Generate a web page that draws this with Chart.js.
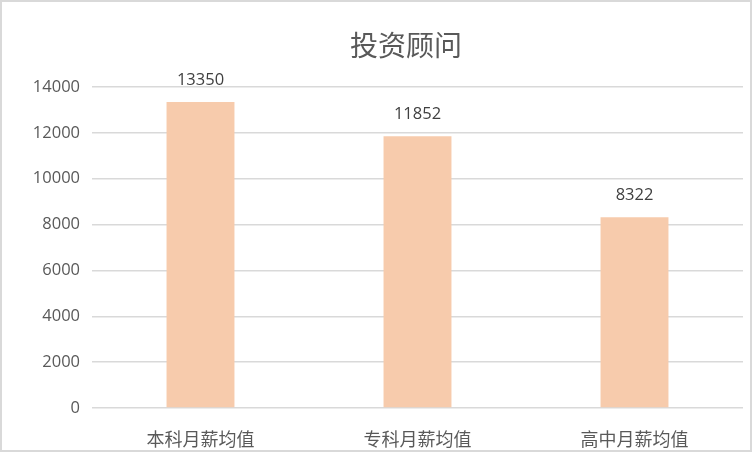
<!DOCTYPE html>
<html>
<head>
<meta charset="utf-8">
<script src="https://cdn.jsdelivr.net/npm/chart.js@4/dist/chart.umd.min.js"></script>
<style>
html,body{margin:0;padding:0;background:#fff;}
canvas{display:block;}
</style>
</head>
<body>
<canvas id="c" width="752" height="452"></canvas>
<script>
const categories = ['本科月薪均值', '专科月薪均值', '高中月薪均值'];
const salaryValues = [13350, 11852, 8322];
const yTickValues = [0, 2000, 4000, 6000, 8000, 10000, 12000, 14000];
const chartTitle = '投资顾问';

const CJK = '"Microsoft YaHei","Noto Sans CJK SC","Noto Sans",sans-serif';
const NUM = '"Open Sans","Noto Sans",sans-serif';

const frame = {
  id: 'frame',
  beforeDraw(chart) {
    const ctx = chart.ctx;
    ctx.save();
    ctx.fillStyle = '#ffffff';
    ctx.fillRect(0, 0, chart.width, chart.height);
    ctx.strokeStyle = '#d9d9d9';
    ctx.lineWidth = 2;
    ctx.strokeRect(1, 1, chart.width - 2, chart.height - 2);
    ctx.fillStyle = '#595959';
    ctx.font = '28px ' + CJK;
    ctx.textAlign = 'center';
    ctx.textBaseline = 'middle';
    ctx.fillText(chartTitle, 406, 45);
    ctx.restore();
  }
};

const valueLabels = {
  id: 'valueLabels',
  afterDatasetsDraw(chart) {
    const ctx = chart.ctx;
    const meta = chart.getDatasetMeta(0);
    ctx.save();
    ctx.font = '16.5px ' + NUM;
    ctx.fillStyle = '#404040';
    ctx.textAlign = 'center';
    ctx.textBaseline = 'middle';
    meta.data.forEach((bar, i) => {
      ctx.fillText(String(chart.data.datasets[0].data[i]), bar.x, bar.y - 22);
    });
    ctx.restore();
  }
};

new Chart(document.getElementById('c'), {
  type: 'bar',
  data: {
    labels: categories,
    datasets: [{
      data: salaryValues,
      backgroundColor: '#F7CBAC',
      borderWidth: 0,
      barPercentage: 0.313,
      categoryPercentage: 1.0
    }]
  },
  options: {
    responsive: false,
    animation: false,
    devicePixelRatio: 1,
    layout: { padding: { left: 0, right: 9, top: 87, bottom: 0 } },
    plugins: {
      legend: { display: false },
      tooltip: { enabled: false },
      title: { display: false }
    },
    scales: {
      x: {
        grid: { display: false },
        border: { display: false },
        ticks: {
          color: '#595959',
          font: { family: CJK, size: 18 },
          padding: 12
        },
        afterFit(scale) { scale.height = 44; }
      },
      y: {
        min: 0,
        max: 14000,
        afterBuildTicks(scale) { scale.ticks = yTickValues.map(v => ({ value: v })); },
        grid: { color: '#d9d9d9', lineWidth: 1.5, drawTicks: false },
        border: { display: false },
        ticks: {
          color: '#595959',
          font: { family: NUM, size: 16.5 },
          padding: 12,
          callback: (v) => String(v)
        },
        afterFit(scale) { scale.width = 92; }
      }
    }
  },
  plugins: [frame, valueLabels]
});
</script>
</body>
</html>
